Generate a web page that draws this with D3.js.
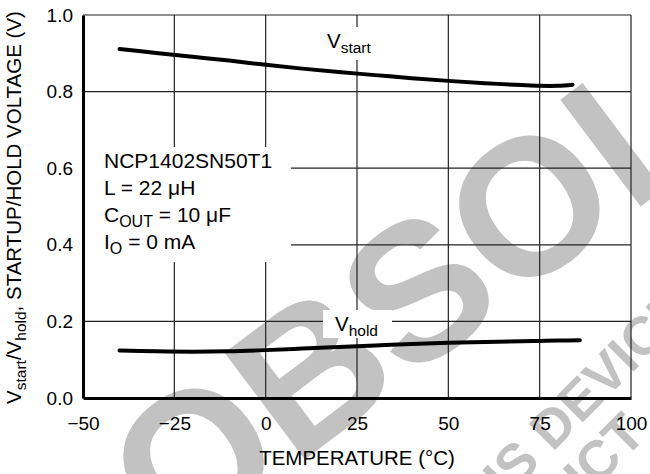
<!DOCTYPE html>
<html><head><meta charset="utf-8">
<script src="https://cdn.jsdelivr.net/npm/d3@7/dist/d3.min.js"></script>
<style>
html,body{margin:0;padding:0;background:#fff;}
svg{display:block;font-family:"Liberation Sans",Arial,Helvetica,sans-serif;}
</style></head>
<body>
<svg id="chart" width="650" height="474"></svg>
<script>
// ---- data ----
const xTicks = [-50, -25, 0, 25, 50, 75, 100];
const yTicks = [0.0, 0.2, 0.4, 0.6, 0.8, 1.0];
const tempStart = [-40, -30, -20, -10, 0, 10, 20, 30, 40, 50, 60, 70, 75, 80, 84];
const vStart    = [0.911, 0.901, 0.891, 0.881, 0.870, 0.860, 0.851, 0.843, 0.835, 0.828, 0.822, 0.817, 0.815, 0.815, 0.818];
const tempHold  = [-40, -30, -20, -10, 0, 10, 20, 30, 40, 50, 60, 70, 75, 80, 86];
const vHold     = [0.124, 0.122, 0.121, 0.122, 0.125, 0.129, 0.133, 0.137, 0.141, 0.144, 0.146, 0.148, 0.149, 0.150, 0.151];
const noteLines = ["NCP1402SN50T1", "L = 22 \u03bcH", "C|OUT| = 10 \u03bcF", "I|O| = 0 mA"];

// ---- layout ----
const svg = d3.select("#chart");
const L = 83, R = 631, T = 15, B = 398;
const x = d3.scaleLinear().domain([-50, 100]).range([L, R]);
const y = d3.scaleLinear().domain([0, 1]).range([B, T]);
const fmtX = d => d < 0 ? "\u2212" + Math.abs(d) : String(d);

svg.append("rect").attr("width", 650).attr("height", 474).attr("fill", "#fff");

// watermark
const wm = svg.append("g").attr("fill", "#c2c2c2").attr("font-weight", "bold");
wm.append("text").attr("transform", "translate(174,558) rotate(-37)")
  .attr("font-size", 194).text("OBSOLETE");
wm.append("text").attr("transform", "translate(455,550) rotate(-45)")
  .attr("font-size", 54).text("THIS DEVICE");
wm.append("text").attr("transform", "translate(459,625) rotate(-45)")
  .attr("font-size", 54).text("PRODUCT");

// grid
const grid = svg.append("g").attr("stroke", "#222").attr("stroke-width", 1.2);
grid.selectAll("line.v").data(xTicks.slice(1)).join("line")
  .attr("x1", d => x(d)).attr("x2", d => x(d)).attr("y1", T).attr("y2", B);
grid.selectAll("line.h").data(yTicks.slice(1)).join("line")
  .attr("y1", d => y(d)).attr("y2", d => y(d)).attr("x1", L).attr("x2", R);

// white label boxes
svg.append("rect").attr("x", L + 1.5).attr("y", 147).attr("width", 291 - L - 1.5).attr("height", 115).attr("fill", "#fff");
svg.append("rect").attr("x", 323).attr("y", 310).attr("width", 69).attr("height", 28).attr("fill", "#fff");
svg.append("rect").attr("x", 322).attr("y", 27).attr("width", 58).attr("height", 33).attr("fill", "#fff");

// curves
const line = d3.line().x(d => x(d[0])).y(d => y(d[1])).curve(d3.curveCatmullRom);
svg.append("path").datum(tempStart.map((t, i) => [t, vStart[i]])).attr("d", line)
  .attr("fill", "none").attr("stroke", "#000").attr("stroke-width", 4).attr("stroke-linecap", "round");
svg.append("path").datum(tempHold.map((t, i) => [t, vHold[i]])).attr("d", line)
  .attr("fill", "none").attr("stroke", "#000").attr("stroke-width", 4).attr("stroke-linecap", "round");

// axes
const xAxis = svg.append("g").attr("transform", `translate(0,${B})`)
  .call(d3.axisBottom(x).tickValues(xTicks).tickFormat(fmtX).tickSize(0).tickPadding(19));
const yAxis = svg.append("g").attr("transform", `translate(${L},0)`)
  .call(d3.axisLeft(y).tickValues(yTicks).tickFormat(d3.format(".1f")).tickSize(0).tickPadding(10));
[xAxis, yAxis].forEach(a => {
  a.select(".domain").attr("stroke", "#000").attr("stroke-width", 3);
  a.selectAll("text").attr("font-family", "Liberation Sans, Arial, sans-serif")
    .attr("font-size", 19).attr("fill", "#000");
});
xAxis.selectAll("text").attr("dy", "0.71em");

// axis titles
svg.append("text").attr("x", (L + R) / 2).attr("y", 465).attr("text-anchor", "middle")
  .attr("font-size", 20.5).text("TEMPERATURE (\u00b0C)");

const yt = svg.append("text").attr("transform", `translate(21,${(T + B) / 2 + 1}) rotate(-90)`)
  .attr("text-anchor", "middle").attr("font-size", 20.5);
yt.append("tspan").text("V");
yt.append("tspan").attr("font-size", 15.5).attr("dy", 5).text("start");
yt.append("tspan").attr("dy", -5).text("/V");
yt.append("tspan").attr("font-size", 15.5).attr("dy", 5).text("hold");
yt.append("tspan").attr("dy", -5).text(", STARTUP/HOLD VOLTAGE (V)");

// curve labels
function subLabel(xp, yp, main, sub) {
  const t = svg.append("text").attr("x", xp).attr("y", yp).attr("font-size", 20.5);
  t.append("tspan").text(main);
  t.append("tspan").attr("font-size", 15.5).attr("dy", 5).text(sub);
}
subLabel(327, 48, "V", "start");
subLabel(335, 331, "V", "hold");

// annotation
noteLines.forEach((s, i) => {
  const t = svg.append("text").attr("x", 104).attr("y", 168 + i * 27).attr("font-size", 21);
  const parts = s.split("|");
  t.append("tspan").text(parts[0]);
  if (parts.length > 1) {
    t.append("tspan").attr("font-size", 16).attr("dy", 5).text(parts[1]);
    t.append("tspan").attr("dy", -5).text(parts[2]);
  }
});
</script>
</body></html>
